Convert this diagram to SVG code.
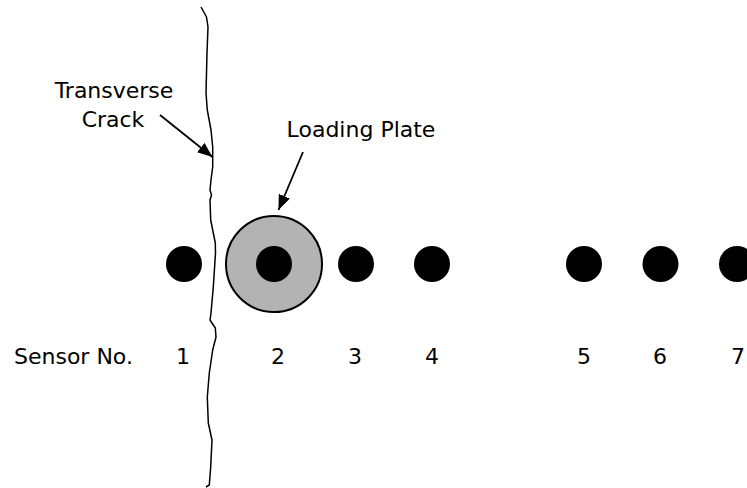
<svg xmlns="http://www.w3.org/2000/svg" width="747" height="488" viewBox="0 0 747 488">
<style>
text{font-family:"DejaVu Sans","Liberation Sans",sans-serif;font-size:22px;fill:#000}
.dot{fill:#000}
.conn{stroke:#000;stroke-width:1.8;fill:none}
.crack{stroke:#000;stroke-width:1.5;fill:none;stroke-linejoin:round}
</style>
<defs>
<marker id="ah" markerUnits="userSpaceOnUse" markerWidth="16" markerHeight="14" refX="15" refY="6" orient="auto">
<path d="M0,0 L15,6 L0,12 Z" fill="#000"/>
</marker>
</defs>
<rect width="747" height="488" fill="#fff"/>
<g id="crack">
<path class="crack" d="M201,7 L206.5,17 L208,27 L207,53 L206,93 L207.3,110 L211,130 L212.7,147 L212.7,167 L211,180 L210,190 L211.5,195 L210,200 L210.7,220 L215.3,243 L215.5,253 L213.3,287 L211,313 L210,320 L215.3,328 L216,337 L212.7,350 L209.3,373 L207.3,397 L208.3,423 L212,440 L210.7,467 L209.3,485 L206,487"/>
</g>
<g id="plate">
<circle cx="274" cy="264" r="48" fill="#b3b3b3" stroke="#000" stroke-width="2"/>
</g>
<g id="sensor1"><circle class="dot" cx="184" cy="264" r="18"/><text x="183" y="364" text-anchor="middle">1</text></g>
<g id="sensor2"><circle class="dot" cx="274" cy="264" r="18"/><text x="278" y="364" text-anchor="middle">2</text></g>
<g id="sensor3"><circle class="dot" cx="356" cy="264" r="18"/><text x="355" y="364" text-anchor="middle">3</text></g>
<g id="sensor4"><circle class="dot" cx="432" cy="264" r="18"/><text x="432" y="364" text-anchor="middle">4</text></g>
<g id="sensor5"><circle class="dot" cx="584" cy="264" r="18"/><text x="584" y="364" text-anchor="middle">5</text></g>
<g id="sensor6"><circle class="dot" cx="660.5" cy="264" r="18"/><text x="660" y="364" text-anchor="middle">6</text></g>
<g id="sensor7"><circle class="dot" cx="737" cy="264" r="18"/><text x="738" y="364" text-anchor="middle">7</text></g>
<g id="sensor-label"><text x="14" y="364">Sensor No.</text></g>
<g id="crack-label">
<text x="114" y="98" text-anchor="middle">Transverse</text>
<text x="113" y="127" text-anchor="middle">Crack</text>
</g>
<g id="plate-label"><text x="361" y="137" text-anchor="middle">Loading Plate</text></g>
<g id="connectors">
<line class="conn" x1="160" y1="115" x2="212.5" y2="157" marker-end="url(#ah)"/>
<line class="conn" x1="303" y1="152" x2="278.5" y2="210" marker-end="url(#ah)"/>
</g>
</svg>
